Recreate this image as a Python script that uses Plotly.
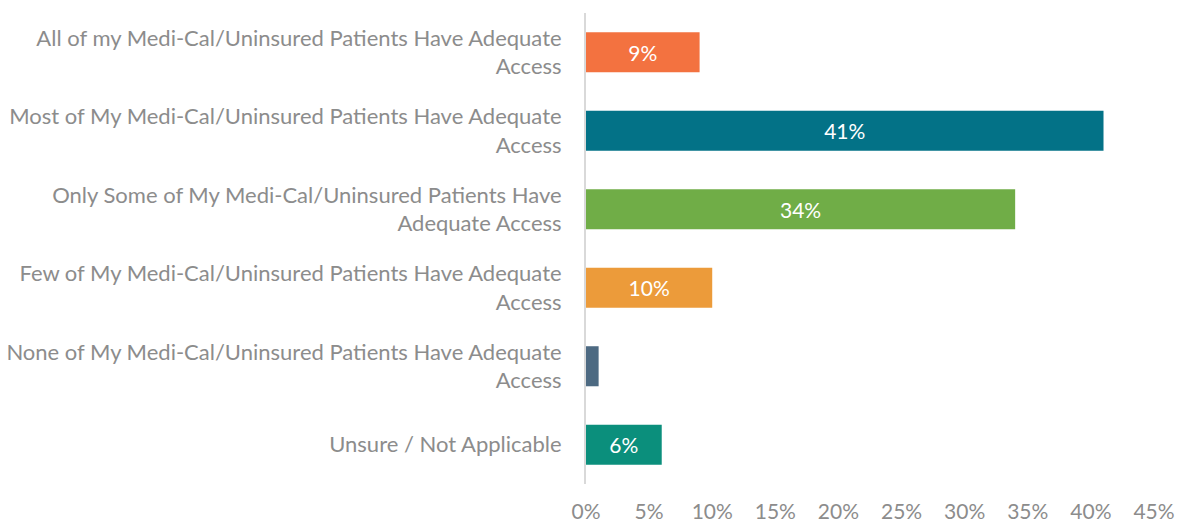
import plotly.graph_objects as go

categories = [
    "All of my Medi-Cal/Uninsured Patients Have Adequate<br>Access",
    "Most of My Medi-Cal/Uninsured Patients Have Adequate<br>Access",
    "Only Some of My Medi-Cal/Uninsured Patients Have<br>Adequate Access",
    "Few of My Medi-Cal/Uninsured Patients Have Adequate<br>Access",
    "None of My Medi-Cal/Uninsured Patients Have Adequate<br>Access",
    "Unsure / Not Applicable",
]
values = [9, 41, 34, 10, 1, 6]
labels = ["9%", "41%", "34%", "10%", "", "6%"]
colors = ["#F37240", "#037287", "#70AD47", "#EC9B3A", "#4D6A82", "#0B8F7C"]
tick_vals = [0, 5, 10, 15, 20, 25, 30, 35, 40, 45]
tick_text = ["0%", "5%", "10%", "15%", "20%", "25%", "30%", "35%", "40%", "45%"]

FONT = "Lato, Open Sans, sans-serif"
GRAY = "#8C8C8C"
SIZE = 22

fig = go.Figure(go.Bar(
    y=categories,
    x=values,
    orientation="h",
    marker=dict(color=colors, line=dict(width=0)),
    width=0.51,
    text=labels,
    textposition="inside",
    insidetextanchor="middle",
    textangle=0,
    textfont=dict(family=FONT, size=21, color="white"),
    constraintext="none",
    hoverinfo="skip",
))

fig.update_layout(
    width=1181,
    height=525,
    margin=dict(l=586, r=27, t=13, b=41),
    paper_bgcolor="white",
    plot_bgcolor="white",
    showlegend=False,
    font=dict(family=FONT, color=GRAY, size=SIZE),
    xaxis=dict(
        range=[0, 45],
        tickvals=tick_vals,
        ticktext=tick_text,
        showgrid=False,
        zeroline=False,
        showline=False,
        ticks="",
        ticklabelstandoff=13,
        tickfont=dict(family=FONT, size=21, color=GRAY),
        automargin=False,
        fixedrange=True,
    ),
    yaxis=dict(
        autorange="reversed",
        showgrid=False,
        zeroline=False,
        showline=True,
        linecolor="#D9D9D9",
        linewidth=2,
        ticks="",
        ticklabelstandoff=18,
        tickfont=dict(family=FONT, size=SIZE, color=GRAY),
        automargin=False,
        fixedrange=True,
    ),
)

fig.write_html(
    "out.html",
    config={"displayModeBar": False},
    post_script="document.body.style.margin='0';document.body.style.overflow='hidden';",
)
